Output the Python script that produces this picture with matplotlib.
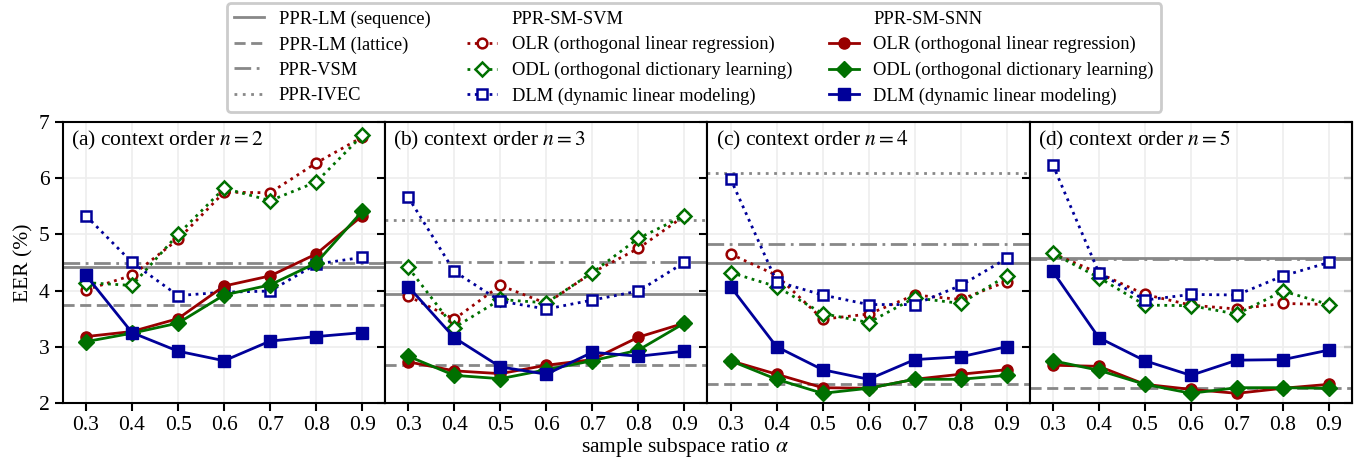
import numpy as np
import matplotlib
matplotlib.use("Agg")
import matplotlib.pyplot as plt
from matplotlib.lines import Line2D

plt.rcParams['font.family'] = ['Liberation Serif', 'DejaVu Serif']
plt.rcParams['mathtext.fontset'] = 'stix'

alpha = [0.3, 0.4, 0.5, 0.6, 0.7, 0.8, 0.9]
orders = [2, 3, 4, 5]
panel_tags = ['(a)', '(b)', '(c)', '(d)']

# baselines per context order (None = outside the plotted range)
lm_seq = [4.41, 3.93, 4.49, 4.57]
lm_lat = [3.75, 2.67, 2.33, 2.27]
vsm = [4.49, 4.50, 4.83, 4.56]
ivec = [None, 5.26, 6.09, None]

# PPR-SM-SVM
svm_olr = [[4.01, 4.27, 4.91, 5.75, 5.74, 6.27, 6.73],
           [3.90, 3.49, 4.09, 3.77, 4.32, 4.75, 5.33],
           [4.65, 4.27, 3.49, 3.58, 3.92, 3.84, 4.16],
           [4.66, 4.31, 3.93, 3.74, 3.67, 3.77, 3.75]]
svm_odl = [[4.14, 4.09, 5.00, 5.82, 5.60, 5.93, 6.76],
           [4.41, 3.34, 3.84, 3.78, 4.32, 4.93, 5.33],
           [4.32, 4.07, 3.59, 3.43, 3.87, 3.77, 4.26],
           [4.66, 4.23, 3.74, 3.73, 3.58, 3.99, 3.75]]
svm_dlm = [[5.33, 4.50, 3.91, 3.97, 3.99, 4.47, 4.59],
           [5.66, 4.34, 3.81, 3.67, 3.83, 3.99, 4.50],
           [5.99, 4.16, 3.92, 3.75, 3.75, 4.09, 4.57],
           [6.24, 4.32, 3.83, 3.93, 3.92, 4.26, 4.50]]

# PPR-SM-SNN
snn_olr = [[3.18, 3.27, 3.50, 4.08, 4.26, 4.65, 5.33],
           [2.73, 2.57, 2.52, 2.67, 2.77, 3.17, 3.42],
           [2.75, 2.51, 2.27, 2.26, 2.42, 2.51, 2.59],
           [2.67, 2.65, 2.33, 2.24, 2.17, 2.26, 2.33]]
snn_odl = [[3.09, 3.24, 3.42, 3.92, 4.10, 4.49, 5.41],
           [2.83, 2.49, 2.43, 2.59, 2.75, 2.94, 3.42],
           [2.75, 2.42, 2.17, 2.26, 2.42, 2.42, 2.49],
           [2.75, 2.58, 2.33, 2.17, 2.27, 2.27, 2.26]]
snn_dlm = [[4.27, 3.25, 2.92, 2.75, 3.10, 3.18, 3.25],
           [4.07, 3.16, 2.64, 2.51, 2.90, 2.83, 2.92],
           [4.07, 3.00, 2.59, 2.42, 2.77, 2.82, 3.00],
           [4.34, 3.16, 2.75, 2.49, 2.76, 2.77, 2.94]]

RED = '#990000'
GREEN = '#007000'
BLUE = '#000099'
GRAY = '#888888'

fig, axes = plt.subplots(1, 4, figsize=(13.69, 4.62), dpi=100, sharey=True)
fig.subplots_adjust(left=0.046, right=0.9876, bottom=0.128, top=0.736, wspace=0)

for i, ax in enumerate(axes):
    ax.grid(True, color='#eeeeee', linewidth=1.2, zorder=0)
    ax.axhline(lm_seq[i], color=GRAY, lw=2, ls='-', zorder=2)
    ax.axhline(lm_lat[i], color=GRAY, lw=2, ls=(0, (4, 2)), zorder=2)
    ax.axhline(vsm[i], color=GRAY, lw=2, ls=(0, (6, 2, 1, 2)), zorder=2)
    if ivec[i] is not None:
        ax.axhline(ivec[i], color=GRAY, lw=2, ls=(0, (1, 2)), zorder=2)

    open_kw = dict(ls=':', lw=2, ms=7, mew=1.8, mfc='white', zorder=4)
    ax.plot(alpha, svm_olr[i], color=RED, marker='o', **open_kw)
    ax.plot(alpha, svm_odl[i], color=GREEN, marker='D', **open_kw)
    ax.plot(alpha, svm_dlm[i], color=BLUE, marker='s', **open_kw)

    full_kw = dict(ls='-', lw=2, ms=8, zorder=5)
    ax.plot(alpha, snn_olr[i], color=RED, marker='o', **full_kw)
    ax.plot(alpha, snn_odl[i], color=GREEN, marker='D', **full_kw)
    ax.plot(alpha, snn_dlm[i], color=BLUE, marker='s', **full_kw)

    ax.set_xlim(0.25, 0.95)
    ax.set_ylim(2, 7)
    ax.set_xticks(alpha)
    ax.set_xticklabels(['%.1f' % a for a in alpha])
    ax.set_yticks([2, 3, 4, 5, 6, 7])
    ax.tick_params(axis='both', direction='out', length=6, width=1.5, labelsize=15.5)
    for s in ax.spines.values():
        s.set_linewidth(1.5)
    ax.text(0.025, 0.975, '%s context order $n=%d$' % (panel_tags[i], orders[i]),
            transform=ax.transAxes, ha='left', va='top', fontsize=15.5)

sec = axes[-1].secondary_yaxis('right')
sec.set_yticks([2, 3, 4, 5, 6, 7])
sec.tick_params(direction='in', length=6, width=1.5, labelright=False)

axes[0].set_ylabel('EER (%)', fontsize=15.5)
fig.text(0.5, 0.032, r'sample subspace ratio $\alpha$', ha='center', va='center', fontsize=15.5)

blank = Line2D([], [], ls='none')
handles = [
    Line2D([], [], color=GRAY, lw=2, ls='-'),
    Line2D([], [], color=GRAY, lw=2, ls=(0, (4, 2))),
    Line2D([], [], color=GRAY, lw=2, ls=(0, (6, 2, 1, 2))),
    Line2D([], [], color=GRAY, lw=2, ls=(0, (1, 2))),
    blank,
    Line2D([], [], color=RED, marker='o', ls=':', lw=2, ms=7, mew=1.8, mfc='white'),
    Line2D([], [], color=GREEN, marker='D', ls=':', lw=2, ms=7, mew=1.8, mfc='white'),
    Line2D([], [], color=BLUE, marker='s', ls=':', lw=2, ms=7, mew=1.8, mfc='white'),
    blank,
    Line2D([], [], color=RED, marker='o', ls='-', lw=2, ms=8),
    Line2D([], [], color=GREEN, marker='D', ls='-', lw=2, ms=8),
    Line2D([], [], color=BLUE, marker='s', ls='-', lw=2, ms=8),
]
labels = ['PPR-LM (sequence)', 'PPR-LM (lattice)', 'PPR-VSM', 'PPR-IVEC',
          'PPR-SM-SVM', 'OLR (orthogonal linear regression)',
          'ODL (orthogonal dictionary learning)', 'DLM (dynamic linear modeling)',
          'PPR-SM-SNN', 'OLR (orthogonal linear regression)',
          'ODL (orthogonal dictionary learning)', 'DLM (dynamic linear modeling)']
leg = fig.legend(handles, labels, ncol=3, loc='upper center', bbox_to_anchor=(0.507, 0.997),
                 borderaxespad=0.1, fontsize=13.3, handlelength=1.6, columnspacing=2.0,
                 labelspacing=0.45, frameon=True, fancybox=True, framealpha=1,
                 edgecolor='#cccccc')
leg.get_frame().set_linewidth(2)

fig.savefig('out.png', dpi=100)
